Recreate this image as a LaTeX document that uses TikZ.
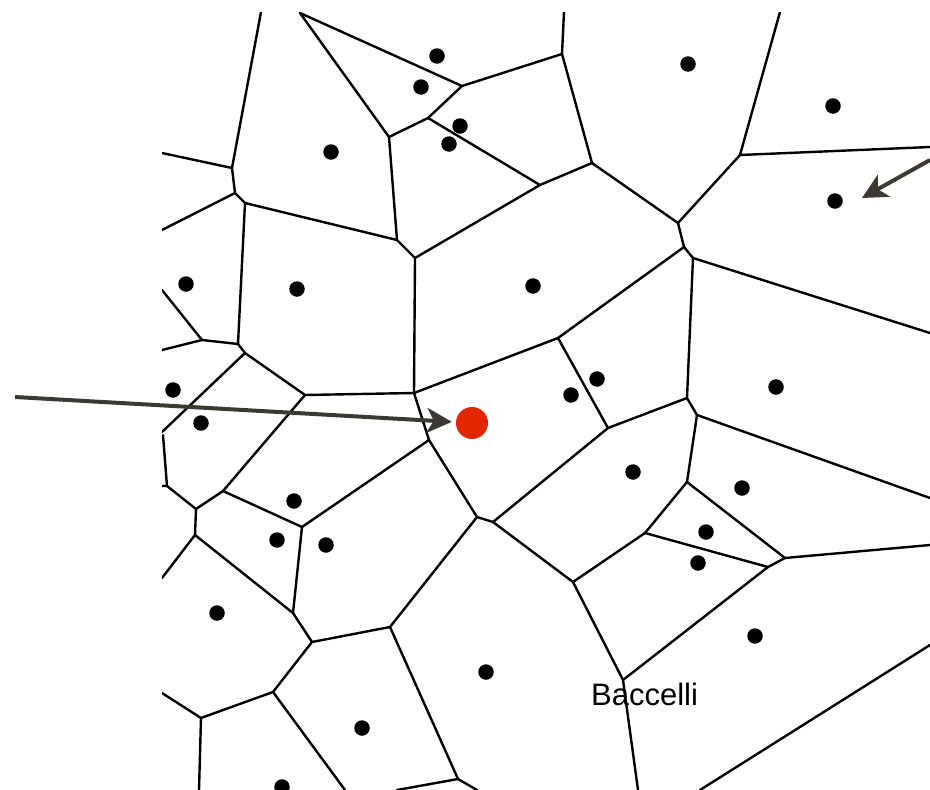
\documentclass[tikz,border=0pt]{standalone}
\usepackage{fontspec}
\setmainfont{Liberation Sans}
\usetikzlibrary{arrows.meta}
\definecolor{arrowgray}{RGB}{60,57,50}
\definecolor{seedred}{RGB}{226,38,0}
\begin{document}
\begin{tikzpicture}[x=1pt,y=-1pt,
  edge/.style={line width=2.4pt,line join=round,line cap=round,black},
  seed/.style={circle,fill=black,inner sep=0pt,minimum size=15.5pt},
  bigseed/.style={circle,fill=seedred,inner sep=0pt,minimum size=32pt},
  pointer/.style={line width=4pt,arrowgray,-{Stealth[length=25pt,width=25pt,inset=7pt]}},
  lbl/.style={font=\fontsize{31}{36}\selectfont,inner sep=0pt,anchor=base west}]
\useasboundingbox (0,0) rectangle (930,790);
% Voronoi vertices
\coordinate (A1) at (232,168); \coordinate (A2) at (235,193);
\coordinate (A3) at (245,203); \coordinate (A4) at (238,344);
\coordinate (A5) at (397,240); \coordinate (A6) at (415,258);
\coordinate (A7) at (389,137); \coordinate (A8) at (428,118);
\coordinate (A9) at (462,86);  \coordinate (A10) at (562,54);
\coordinate (A11) at (592,163); \coordinate (A12) at (540,185);
\coordinate (A13) at (678,223); \coordinate (A14) at (740,155);
\coordinate (A15) at (684,247); \coordinate (A16) at (558,338);
\coordinate (A17) at (693,258); \coordinate (A18) at (687,398);
\coordinate (A19) at (608,428); \coordinate (A20) at (697,415);
\coordinate (A21) at (687,482); \coordinate (A22) at (414,393);
\coordinate (A23) at (493,522); \coordinate (A24) at (429,440);
\coordinate (A25) at (477,517); \coordinate (A26) at (302,527);
\coordinate (A27) at (305,395); \coordinate (A28) at (245,353);
\coordinate (A29) at (202,340); \coordinate (A30) at (223,491);
\coordinate (A31) at (196,509); \coordinate (A32) at (167,486);
\coordinate (A34) at (195,535); \coordinate (A35) at (293,613);
\coordinate (A36) at (312,642); \coordinate (A37) at (390,627);
\coordinate (A38) at (273,692); \coordinate (A39) at (201,718);
\coordinate (A40) at (458,779); \coordinate (A41) at (573,582);
\coordinate (A42) at (645,533); \coordinate (A43) at (768,567);
\coordinate (A44) at (785,558); \coordinate (A45) at (623,680);
\coordinate (V0) at (300,13);
% free ends at the frame
\coordinate (E1) at (261,12);  \coordinate (E2) at (162,153);
\coordinate (E3) at (162,230); \coordinate (E4) at (162,290);
\coordinate (E5) at (162,350); \coordinate (E6) at (162,432);
\coordinate (E7) at (162,486); \coordinate (E8) at (163,435);
\coordinate (E9) at (162,578); \coordinate (E10) at (162,693);
\coordinate (E11) at (199,790); \coordinate (E12) at (345,790);
\coordinate (E13) at (397,790); \coordinate (E14) at (477,790);
\coordinate (E15) at (638,790); \coordinate (E16) at (700,790);
\coordinate (E17) at (930,645); \coordinate (E18) at (930,545);
\coordinate (E19) at (930,498); \coordinate (E20) at (930,333);
\coordinate (E21) at (930,147); \coordinate (E22) at (780,12);
\coordinate (E23) at (564,12);
\begin{scope}
\clip (162,12) rectangle (930,790);
\draw[edge] (E2) -- (A1) -- (E1);
\draw[edge] (A1) -- (A2) -- (E3);
\draw[edge] (A2) -- (A3) -- (A5) -- (A6) -- (A12) -- (A8) -- (A7) -- (V0) -- (A9) -- (A8);
\draw[edge] (A7) -- (A5);
\draw[edge] (A3) -- (A4) -- (A29) -- (E4);
\draw[edge] (A29) -- (E5);
\draw[edge] (A4) -- (A28) -- (E6);
\draw[edge] (A28) -- (A27) -- (A22) -- (A6);
\draw[edge] (A9) -- (A10) -- (E23);
\draw[edge] (A10) -- (A11) -- (A12);
\draw[edge] (A11) -- (A13) -- (A14) -- (E22);
\draw[edge] (A14) -- (E21);
\draw[edge] (A13) -- (A15) -- (A16) -- (A22);
\draw[edge] (A15) -- (A17) -- (E20);
\draw[edge] (A17) -- (A18) -- (A19) -- (A16);
\draw[edge] (A18) -- (A20) -- (E19);
\draw[edge] (A20) -- (A21) -- (A42) -- (A41) -- (A23) -- (A19);
\draw[edge] (A21) -- (A44) -- (E18);
\draw[edge] (A42) -- (A43) -- (A44);
\draw[edge] (A43) -- (A45) -- (E15);
\draw[edge] (A41) -- (A45);
\draw[edge] (E17) -- (E16);
\draw[edge] (A22) -- (A24) -- (A25) -- (A23);
\draw[edge] (A25) -- (A37) -- (A40) -- (E14);
\draw[edge] (A40) -- (E13);
\draw[edge] (A24) -- (A26) -- (A30) -- (A27);
\draw[edge] (A30) -- (A31) -- (A32) -- (E7);
\draw[edge] (A32) -- (E8);
\draw[edge] (A31) -- (A34) -- (E9);
\draw[edge] (A34) -- (A35) -- (A26);
\draw[edge] (A35) -- (A36) -- (A37);
\draw[edge] (A36) -- (A38) -- (A39) -- (E10);
\draw[edge] (A39) -- (E11);
\draw[edge] (A38) -- (E12);
\end{scope}
% seeds
\node[seed] (d1) at (437,56) {};
\node[seed] (d2) at (421,87) {};
\node[seed] (d3) at (460,126) {};
\node[seed] (d4) at (449,144) {};
\node[seed] (d5) at (331,152) {};
\node[seed] (d6) at (688,64) {};
\node[seed] (d7) at (833,106) {};
\node[seed] (d8) at (835,201) {};
\node[seed] (d9) at (186,284) {};
\node[seed] (d10) at (297,289) {};
\node[seed] (d11) at (533,286) {};
\node[seed] (d12) at (597,379) {};
\node[seed] (d13) at (571,395) {};
\node[seed] (d14) at (776,387) {};
\node[seed] (d15) at (173,390) {};
\node[seed] (d16) at (201,423) {};
\node[seed] (d17) at (633,472) {};
\node[seed] (d18) at (742,488) {};
\node[seed] (d19) at (294,501) {};
\node[seed] (d20) at (706,532) {};
\node[seed] (d21) at (698,563) {};
\node[seed] (d22) at (277,540) {};
\node[seed] (d23) at (326,545) {};
\node[seed] (d24) at (217,613) {};
\node[seed] (d25) at (755,636) {};
\node[seed] (d26) at (486,672) {};
\node[seed] (d27) at (362,728) {};
\node[seed] (d28) at (282,787) {};
\node[bigseed] (red) at (472,423) {};
% label
\node[lbl] (baccelli) at (591,705) {Baccelli};
% arrows
\coordinate (tailL) at (15,397);
\coordinate (tailR) at (930,160);
\coordinate (tipR) at (862,198);
\draw[pointer,shorten >=4pt] (tailL) -- (red);
\draw[pointer] (tailR) -- (tipR);
\end{tikzpicture}
\end{document}
